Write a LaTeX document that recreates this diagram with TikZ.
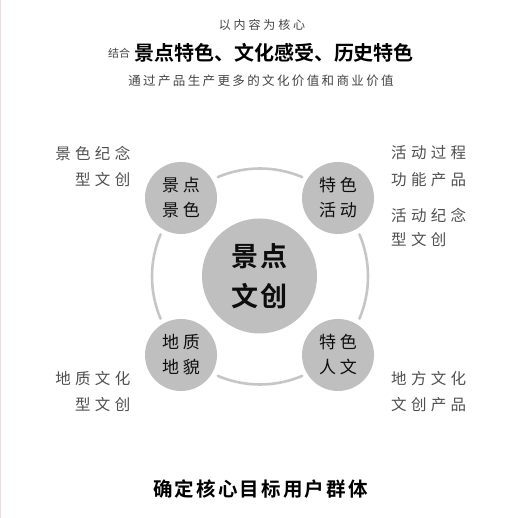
\documentclass[tikz,border=0pt]{standalone}
\usepackage{fontspec}
\setmainfont{Noto Sans CJK SC}[BoldFont={Noto Sans CJK SC Bold}]
\definecolor{ringgray}{HTML}{C6C6C6}
\definecolor{circfill}{HTML}{BFBFBF}
\definecolor{labgray}{HTML}{505050}
\definecolor{titlegray}{HTML}{444444}
\definecolor{pinkline}{HTML}{EDDCE0}
\tikzset{
  ringarc/.style={draw=ringgray,line width=2.6pt,line cap=round},
  smallcirc/.style={circle,fill=circfill,minimum size=72pt,inner sep=0pt,align=center,
    font=\fontsize{17}{25}\selectfont\addfontfeatures{LetterSpace=22},text=black!95},
  bigcirc/.style={circle,fill=circfill,minimum size=115pt,inner sep=0pt,align=center,
    font=\fontsize{27}{40}\selectfont\bfseries\addfontfeatures{LetterSpace=8},text=black!95},
  sidelab/.style={inner sep=0pt,text=labgray,font=\fontsize{15.5}{15}\selectfont\addfontfeatures{LetterSpace=28}},
  toptext/.style={inner sep=0pt,text=titlegray,font=\fontsize{12}{12}\selectfont\addfontfeatures{LetterSpace=24}},
  headtext/.style={inner sep=0pt,text=black,font=\fontsize{20}{20}\selectfont\bfseries},
  foottext/.style={inner sep=0pt,text=black,font=\fontsize{19.5}{20}\selectfont\bfseries\addfontfeatures{LetterSpace=11}}
}
\begin{document}
\begin{tikzpicture}[x=1pt,y=1pt]
\useasboundingbox (0,0) rectangle (520,518);
\fill[white] (0,0) rectangle (520,518);
\draw[pinkline,line width=1pt] (0.6,0) -- (0.6,518);
% titles
\node[toptext] (t1) at (262,493) {以内容为核心};
\node[inner sep=0pt,text=titlegray,font=\fontsize{11}{11}\selectfont] (t2a) at (119,465) {结合};
\node[headtext] (t2b) at (274,465) {景点特色、文化感受、历史特色};
\node[toptext,font=\fontsize{12.5}{12}\selectfont\addfontfeatures{LetterSpace=19}] (t3) at (261,437) {通过产品生产更多的文化价值和商业价值};
% ring
\coordinate (O) at (260,241.5);
\draw[ringarc] ([shift={(67:108)}]O) arc[start angle=67,end angle=113,radius=108];
\draw[ringarc] ([shift={(157:108)}]O) arc[start angle=157,end angle=203,radius=108];
\draw[ringarc] ([shift={(247:108)}]O) arc[start angle=247,end angle=293,radius=108];
\draw[ringarc] ([shift={(337:108)}]O) arc[start angle=337,end angle=383,radius=108];
% circles
\node[bigcirc] (c) at (259.5,242) {景点\\文创};
\node[smallcirc] (tl) at (181,320) {景点\\景色};
\node[smallcirc] (tr) at (338,320) {特色\\活动};
\node[smallcirc] (bl) at (181,163) {地质\\地貌};
\node[smallcirc] (br) at (338,163) {特色\\人文};
% side labels
\node[sidelab,anchor=east] (l1) at (130.5,365) {景色纪念};
\node[sidelab,anchor=east] (l2) at (130.5,338) {型文创};
\node[sidelab,anchor=east] (l3) at (130.5,139) {地质文化};
\node[sidelab,anchor=east] (l4) at (130.5,113) {型文创};
\node[sidelab,anchor=west] (r1) at (391,365) {活动过程};
\node[sidelab,anchor=west] (r2) at (391,338) {功能产品};
\node[sidelab,anchor=west] (r3) at (391,303) {活动纪念};
\node[sidelab,anchor=west] (r4) at (391,278) {型文创};
\node[sidelab,anchor=west] (r5) at (391,139) {地方文化};
\node[sidelab,anchor=west] (r6) at (391,113) {文创产品};
% footer
\node[foottext] (f) at (260.5,29) {确定核心目标用户群体};
\end{tikzpicture}
\end{document}
